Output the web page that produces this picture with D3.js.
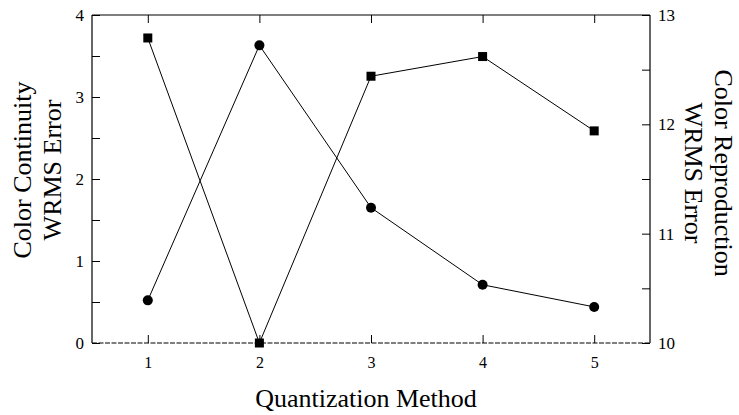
<!DOCTYPE html>
<html>
<head>
<meta charset="utf-8">
<script src="https://cdn.jsdelivr.net/npm/d3@7"></script>
<style>
  body { margin: 0; background: #fff; }
  svg text { font-family: "Liberation Serif", "DejaVu Serif", serif !important; fill: #000; }
</style>
</head>
<body>
<div id="chart"></div>
<script>
var svgWidth = 739;
var svgHeight = 415;

var margin = { top: 15, right: 89, bottom: 72, left: 92 };
var width = svgWidth - margin.left - margin.right;
var height = svgHeight - margin.top - margin.bottom;

// Data
var methods = [1, 2, 3, 4, 5];
var continuityError = [0.52, 3.63, 1.65, 0.71, 0.44];        // circles, left axis
var reproductionError = [12.79, 10.0, 12.44, 12.62, 11.94];   // squares, right axis
var leftTicks = d3.range(0, 4.01, 0.5);
var rightTicks = d3.range(10, 13.01, 0.5);

var svg = d3.select("#chart")
  .append("svg")
  .attr("width", svgWidth)
  .attr("height", svgHeight);

var chartGroup = svg.append("g")
  .attr("transform", `translate(${margin.left}, ${margin.top})`);

// Scales
var xScale = d3.scaleLinear().domain([0.5, 5.5]).range([0, width]);
var yLeft = d3.scaleLinear().domain([0, 4]).range([height, 0]);
var yRight = d3.scaleLinear().domain([10, 13]).range([height, 0]);

// Axes, ticks point inward, labels only on whole numbers
var intOnly = d => Number.isInteger(d) ? d : "";
var bottomAxis = d3.axisBottom(xScale).tickValues(methods).tickSize(-8).tickPadding(14).tickFormat(d3.format("d"));
var topAxis = d3.axisTop(xScale).tickValues(methods).tickSize(-8).tickFormat("");
var leftAxis = d3.axisLeft(yLeft).tickValues(leftTicks).tickSize(-8).tickPadding(8).tickFormat(intOnly);
var rightAxis = d3.axisRight(yRight).tickValues(rightTicks).tickSize(-8).tickPadding(8).tickFormat(intOnly);

function styleAxis(g) {
  g.attr("font-family", null);
  g.select(".domain").attr("stroke", "#000").attr("stroke-width", 1.2);
  g.selectAll(".tick line").attr("stroke", "#000").attr("stroke-width", 1);
  g.selectAll(".tick text").attr("font-size", "17px");
}

chartGroup.append("g").call(topAxis).call(styleAxis).select(".domain").attr("d", `M0,0H${width}`);

chartGroup.append("g").call(leftAxis).call(styleAxis).select(".domain").attr("d", `M0,0V${height}`);

chartGroup.append("g")
  .attr("transform", `translate(${width}, 0)`)
  .call(rightAxis).call(styleAxis).select(".domain").attr("d", `M0,0V${height}`);

var xg = chartGroup.append("g")
  .attr("transform", `translate(0, ${height})`)
  .call(bottomAxis).call(styleAxis);
xg.select(".domain").attr("d", `M0,0H${width}`).attr("stroke-dasharray", "5,1.5");
xg.selectAll(".tick text").attr("font-size", "16px");

// Lines
var circleLine = d3.line()
  .x((d, i) => xScale(methods[i]))
  .y(d => yLeft(d));

var squareLine = d3.line()
  .x((d, i) => xScale(methods[i]))
  .y(d => yRight(d));

chartGroup.append("path")
  .datum(continuityError)
  .attr("d", circleLine)
  .attr("fill", "none")
  .attr("stroke", "#000")
  .attr("stroke-width", 1);

chartGroup.append("path")
  .datum(reproductionError)
  .attr("d", squareLine)
  .attr("fill", "none")
  .attr("stroke", "#000")
  .attr("stroke-width", 1);

// Markers
chartGroup.selectAll(".dot")
  .data(continuityError)
  .enter()
  .append("circle")
  .attr("cx", (d, i) => xScale(methods[i]))
  .attr("cy", d => yLeft(d))
  .attr("r", 5)
  .attr("fill", "#000");

chartGroup.selectAll(".sq")
  .data(reproductionError)
  .enter()
  .append("rect")
  .attr("x", (d, i) => xScale(methods[i]) - 4.5)
  .attr("y", d => yRight(d) - 4.5)
  .attr("width", 9)
  .attr("height", 9)
  .attr("fill", "#000");

// Axis labels
chartGroup.append("text")
  .attr("transform", `translate(${-61}, ${height / 2 - 9}) rotate(-90)`)
  .attr("text-anchor", "middle")
  .attr("font-size", "26px")
  .selectAll("tspan")
  .data(["Color Continuity", "WRMS Error"])
  .enter()
  .append("tspan")
  .attr("x", 0)
  .attr("dy", (d, i) => i === 0 ? "0em" : "1.15em")
  .text(d => d);

chartGroup.append("text")
  .attr("transform", `translate(${width + 65}, ${height / 2 - 6}) rotate(90)`)
  .attr("text-anchor", "middle")
  .attr("font-size", "26px")
  .selectAll("tspan")
  .data(["Color Reproduction", "WRMS Error"])
  .enter()
  .append("tspan")
  .attr("x", 0)
  .attr("dy", (d, i) => i === 0 ? "0em" : "1.15em")
  .text(d => d);

chartGroup.append("text")
  .attr("x", width / 2 - 5)
  .attr("y", height + 64)
  .attr("text-anchor", "middle")
  .attr("font-size", "26px")
  .text("Quantization Method");
</script>
</body>
</html>
